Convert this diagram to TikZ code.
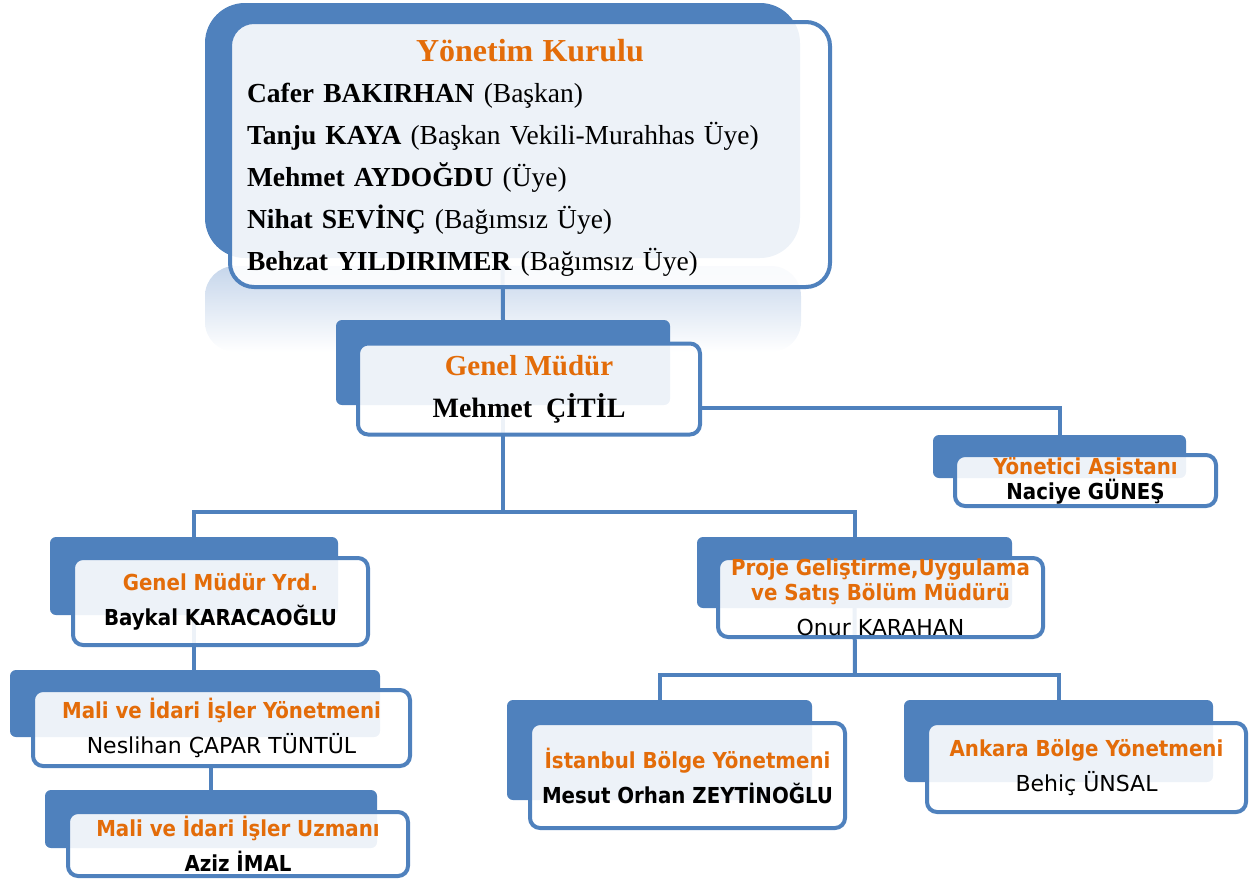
\documentclass[tikz,border=0pt]{standalone}
\usepackage{fontspec}
\setmainfont{Liberation Serif}
\newfontfamily\tahoma{DejaVu Sans Condensed}
\newfontfamily\tahomareg{DejaVu Sans}
\usetikzlibrary{backgrounds}

\definecolor{boxblue}{HTML}{4F81BD}
\definecolor{titleorange}{HTML}{E36C09}
\definecolor{glow}{HTML}{C6D6EB}

\newcommand{\boxtitle}[1]{\textcolor{titleorange}{\bfseries #1}}
\newcommand{\plainname}[1]{{\tahomareg #1}}

\tikzset{
    backbox/.style={fill=boxblue, rounded corners=6pt, inner sep=0pt, outer sep=0pt},
    frontbox/.style={draw=boxblue, line width=4pt, fill=white, fill opacity=0.9,
        text opacity=1, rounded corners=10pt, inner sep=0pt, outer sep=0pt, align=center},
    sansbox/.style={frontbox, font=\tahoma\fontsize{22}{35}\selectfont},
    link/.style={draw=boxblue, line width=4pt}
}

\begin{document}
\begin{tikzpicture}[x=1pt,y=-1pt]
    \useasboundingbox (0,0) rectangle (1255,878);
    % back boxes
    \node[backbox, rounded corners=40pt, minimum width=595pt, minimum height=255pt] (ykB) at (502.5,130.5) {};
    \node[backbox, minimum width=334pt, minimum height=85pt] (gmB) at (503,362.5) {};
    \node[backbox, minimum width=253pt, minimum height=43pt] (asB) at (1059.5,456.5) {};
    \node[backbox, minimum width=288pt, minimum height=78pt] (gmyB) at (194,576) {};
    \node[backbox, minimum width=370pt, minimum height=67pt] (maliB) at (195,703.5) {};
    \node[backbox, minimum width=332pt, minimum height=58pt] (uzmB) at (211,819) {};
    \node[backbox, minimum width=315pt, minimum height=71pt] (prB) at (854.5,572.5) {};
    \node[backbox, minimum width=305pt, minimum height=100pt] (istB) at (659.5,750) {};
    \node[backbox, minimum width=309pt, minimum height=82pt] (ankB) at (1058.5,741) {};

    % front boxes
    \node[frontbox, rounded corners=24pt, minimum width=600pt, minimum height=265pt,
        text width=566pt, align=left, font=\fontsize{27.5}{42}\selectfont] (yk) at (530,154.5) {%
        \makebox[\linewidth]{\rule{0pt}{28pt}\fontsize{32}{42}\selectfont\boxtitle{Yönetim Kurulu}}\\[-1pt]
        \textbf{Cafer BAKIRHAN} (Başkan)\\
        \textbf{Tanju KAYA} (Başkan Vekili-Murahhas Üye)\\
        \textbf{Mehmet AYDOĞDU} (Üye)\\
        \textbf{Nihat SEVİNÇ} (Bağımsız Üye)\\
        \textbf{Behzat YILDIRIMER} (Bağımsız Üye)};
    \node[frontbox, minimum width=342pt, minimum height=91pt, font=\fontsize{28}{42}\selectfont] (gm) at (529,389)
        {{\fontsize{29}{42}\selectfont\boxtitle{Genel Müdür}}\\\textbf{Mehmet \ ÇİTİL}};
    \node[sansbox, minimum width=261pt, minimum height=51pt] (as) at (1085.5,480.5)
        {\boxtitle{Yönetici Asistanı}\\[-10pt]\textbf{Naciye GÜNEŞ}};
    \node[sansbox, minimum width=295pt, minimum height=87pt] (gmy) at (220.5,601.5)
        {\boxtitle{Genel Müdür Yrd.}\\\textbf{Baykal KARACAOĞLU}};
    \node[sansbox, minimum width=377pt, minimum height=76pt] (mali) at (221.5,728)
        {\boxtitle{Mali ve İdari İşler Yönetmeni}\\\plainname{Neslihan ÇAPAR TÜNTÜL}};
    \node[sansbox, minimum width=340pt, minimum height=64pt] (uzm) at (238,844)
        {\boxtitle{Mali ve İdari İşler Uzmanı}\\\textbf{Aziz İMAL}};
    \node[sansbox, minimum width=325pt, minimum height=79pt] (pr) at (880.5,597.5)
        {\boxtitle{Proje Geliştirme,Uygulama}\\[-10pt]\boxtitle{ve Satış Bölüm Müdürü}\\\plainname{Onur KARAHAN}};
    \node[sansbox, minimum width=315pt, minimum height=105pt] (ist) at (687.5,775.5)
        {\boxtitle{İstanbul Bölge Yönetmeni}\\\textbf{Mesut Orhan ZEYTİNOĞLU}};
    \node[sansbox, minimum width=319pt, minimum height=89pt] (ank) at (1086.5,767.5)
        {\boxtitle{Ankara Bölge Yönetmeni}\\\plainname{Behiç ÜNSAL}};

    % connectors and reflection
    \begin{scope}[on background layer]
        \shade[top color=glow, bottom color=white, rounded corners=30pt] (205,266) rectangle (801,352);
        \draw[link] (ykB.south) -- (gmB.north);
        \draw[link] ([yshift=-19pt]gm.east) -| (asB.north);
        \coordinate (gmsplit) at (503,512);
        \draw[link] (gmB.south) -- (gmsplit);
        \draw[link] (gmyB.north) |- (gmsplit) -| (prB.north);
        \draw[link] (gmyB.south) -- (gmyB.south |- maliB.north);
        \draw[link] (uzmB.north) -- (uzmB.north |- mali.south);
        \coordinate (prsplit) at (855,675);
        \draw[link] (prB.south) -- (prsplit);
        \draw[link] (istB.north) |- (prsplit) -| (ankB.north);
    \end{scope}
\end{tikzpicture}
\end{document}
